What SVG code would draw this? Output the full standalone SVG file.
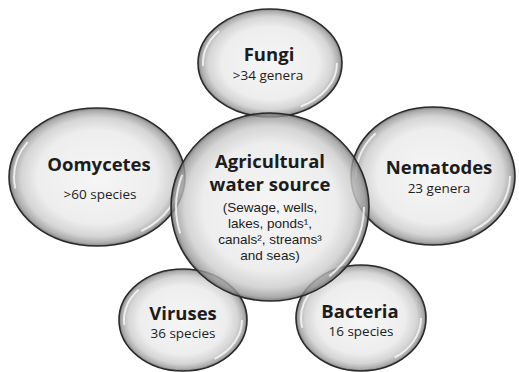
<svg xmlns="http://www.w3.org/2000/svg" width="519" height="372" viewBox="0 0 519 372">
<defs>
<radialGradient id="bub" cx="50%" cy="50%" r="50%">
<stop offset="0" stop-color="#f5f5f5" stop-opacity="0.92"/>
<stop offset="0.68" stop-color="#ebebeb" stop-opacity="0.88"/>
<stop offset="0.86" stop-color="#cbcbcb" stop-opacity="0.8"/>
<stop offset="0.96" stop-color="#979797" stop-opacity="0.8"/>
<stop offset="1" stop-color="#666666" stop-opacity="0.85"/>
</radialGradient>
</defs>
<style>
.b{fill:url(#bub);stroke:#2a2a2a;stroke-width:1.6}
.h{fill:none;stroke:#ffffff;stroke-width:2;stroke-opacity:0.75}
.t{font-family:"Open Sans","Liberation Sans",sans-serif;font-weight:bold;font-size:18.5px;fill:#1c1c1c;text-anchor:middle}
.s{font-family:"Open Sans","Liberation Sans",sans-serif;font-size:13.5px;fill:#1c1c1c;text-anchor:middle}
.c{font-family:"Liberation Sans",Arial,sans-serif;font-size:13.5px;fill:#1c1c1c;text-anchor:middle}
</style>
<rect width="519" height="372" fill="#ffffff"/>
<g id="connectors"/>
<g id="fungi">
<ellipse class="b" cx="270" cy="63" rx="72" ry="54"/>
<ellipse class="h" cx="270" cy="63" rx="67" ry="49" stroke-dasharray="60 120 40 200"/>
<text class="t" x="269" y="61">Fungi</text>
<text class="s" x="268" y="80">&gt;34 genera</text>
</g>
<g id="oomycetes">
<ellipse class="b" cx="97" cy="177" rx="88" ry="69"/>
<ellipse class="h" cx="97" cy="177" rx="83" ry="64" stroke-dasharray="70 150 50 250"/>
<text class="t" x="99" y="171">Oomycetes</text>
<text class="s" x="100" y="199">&gt;60 species</text>
</g>
<g id="nematodes">
<ellipse class="b" cx="433" cy="176" rx="82" ry="69"/>
<ellipse class="h" cx="433" cy="176" rx="77" ry="64" stroke-dasharray="70 150 50 250"/>
<text class="t" x="439" y="174">Nematodes</text>
<text class="s" x="439" y="193">23 genera</text>
</g>
<g id="viruses">
<ellipse class="b" cx="183" cy="320" rx="64" ry="51"/>
<ellipse class="h" cx="183" cy="320" rx="59" ry="46" stroke-dasharray="50 110 40 160"/>
<text class="t" x="183" y="320">Viruses</text>
<text class="s" x="183" y="338">36 species</text>
</g>
<g id="bacteria">
<ellipse class="b" cx="361" cy="318" rx="65" ry="53"/>
<ellipse class="h" cx="361" cy="318" rx="60" ry="48" stroke-dasharray="50 110 40 160"/>
<text class="t" x="360" y="318">Bacteria</text>
<text class="s" x="361" y="336">16 species</text>
</g>
<g id="water-source">
<ellipse class="b" cx="270" cy="207" rx="99" ry="94"/>
<ellipse class="h" cx="270" cy="207" rx="94" ry="89" stroke-dasharray="80 180 60 300"/>
<text class="t" x="270" y="168">Agricultural</text>
<text class="t" x="270" y="191">water source</text>
<text class="c" x="270" y="212">(Sewage, wells,</text>
<text class="c" x="270" y="228">lakes, ponds¹,</text>
<text class="c" x="270" y="244">canals², streams³</text>
<text class="c" x="270" y="260">and seas)</text>
</g>
</svg>
